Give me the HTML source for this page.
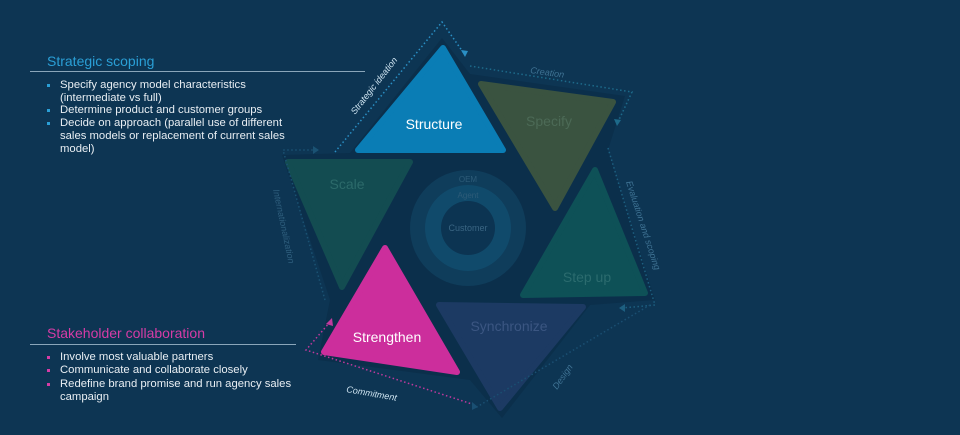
<!DOCTYPE html>
<html><head><meta charset="utf-8"><style>
html,body{margin:0;padding:0;background:#0d3553;}
svg{display:block;font-family:"Liberation Sans",sans-serif;}
</style></head><body>
<svg width="960" height="435" viewBox="0 0 960 435" xmlns="http://www.w3.org/2000/svg">
<rect width="960" height="435" fill="#0d3553"/>
<polygon points="442,38 470,74 625,96 608,150 655,300 590,305 502,418 470,380 318,360 330,300 282,155 350,153" fill="#0b2f4b"/>
<g stroke-linejoin="round" stroke-width="6">
<polygon points="443,48 503,150 358,150" fill="#0a7db5" stroke="#0a7db5"/>
<polygon points="481,84 613,102 555,208" fill="#3a5340" stroke="#3a5340"/>
<polygon points="595,170 645,293 523,295" fill="#0e5157" stroke="#0e5157"/>
<polygon points="439,305 583,307 500,408" fill="#1c3a63" stroke="#1c3a63"/>
<polygon points="385,248 457,372 324,352" fill="#cc2e9c" stroke="#cc2e9c"/>
<polygon points="288,162 410,162 342,287" fill="#134c51" stroke="#134c51"/>
</g>
<circle cx="468" cy="228" r="58" fill="#0f3d5b"/>
<circle cx="468" cy="228" r="43" fill="#104a6b"/>
<circle cx="468" cy="228" r="27" fill="#0c3452"/>
<g fill="#2d5b78" font-size="8" text-anchor="middle">
<text x="468" y="182">OEM</text><text x="468" y="198">Agent</text>
<text x="468" y="231" font-size="9" fill="#3a6583">Customer</text>
</g>
<g font-size="14" text-anchor="middle">
<text x="434" y="129" fill="#ffffff">Structure</text>
<text x="549" y="126" fill="#4c6a56">Specify</text>
<text x="587" y="282" fill="#2b6b6e">Step up</text>
<text x="509" y="331" fill="#3b5682">Synchronize</text>
<text x="387" y="342" fill="#ffffff">Strengthen</text>
<text x="347" y="189" fill="#2c6a6a">Scale</text>
</g>
<g fill="none" stroke-width="1.5" stroke-dasharray="1.5 2.5">
<polyline points="335,152 442,22 465,55" stroke="#2a8fc4"/>
<polyline points="470,66 632,92 617,124" stroke="#1d6a8a"/>
<polyline points="608,148 655,305 622,308" stroke="#1d5f80"/>
<polyline points="650,305 475,408" stroke="#1a4f72"/>
<polyline points="330,322 306,350 475,405" stroke="#c0399e"/>
<polyline points="325,300 283,150 316,150" stroke="#1a5273"/>
</g>
<g>
<polygon points="465,57 461,50 468,51" fill="#2a8fc4"/>
<polygon points="617,126 614,119 621,120" fill="#1d6a8a"/>
<polygon points="619,308 625,304 625,312" fill="#1d5f80"/>
<polygon points="332,318 326,324 333,326" fill="#c0399e"/>
<polygon points="319,150 313,146 313,154" fill="#1a5273"/>
<polygon points="478,407 472,402 472,410" fill="#1a4f72"/>
</g>
<g font-size="9" font-style="italic">
<text transform="translate(355,115) rotate(-52)" fill="#cde3f0">Strategic ideation</text>
<text transform="translate(530,73) rotate(8)" fill="#3f7394">Creation</text>
<text transform="translate(626,182) rotate(72)" fill="#3f7394">Evaluation and scoping</text>
<text transform="translate(557,390) rotate(-55)" fill="#3f7394">Design</text>
<text transform="translate(346,392) rotate(10)" fill="#cde3f0">Commitment</text>
<text transform="translate(273,190) rotate(78)" fill="#2f5f7e">Internationalization</text>
</g>
<text x="47" y="66" font-size="14" fill="#2a9fd6">Strategic scoping</text>
<line x1="30" y1="71.5" x2="365" y2="71.5" stroke="#8aa6ba" stroke-width="1"/>
<g font-size="11.3" fill="#e8eef3">
<text x="60" y="88">Specify agency model characteristics</text>
<text x="60" y="101">(intermediate vs full)</text>
<text x="60" y="113">Determine product and customer groups</text>
<text x="60" y="126">Decide on approach (parallel use of different</text>
<text x="60" y="139">sales models or replacement of current sales</text>
<text x="60" y="152">model)</text>
</g>
<g fill="#2a9fd6"><rect x="47" y="84" width="3" height="3"/><rect x="47" y="109" width="3" height="3"/><rect x="47" y="122" width="3" height="3"/></g>
<text x="47" y="338" font-size="14" fill="#d63ca6">Stakeholder collaboration</text>
<line x1="30" y1="344.5" x2="296" y2="344.5" stroke="#8aa6ba" stroke-width="1"/>
<g font-size="11.3" fill="#e8eef3">
<text x="60" y="360">Involve most valuable partners</text>
<text x="60" y="373">Communicate and collaborate closely</text>
<text x="60" y="387">Redefine brand promise and run agency sales</text>
<text x="60" y="400">campaign</text>
</g>
<g fill="#d63ca6"><rect x="47" y="356" width="3" height="3"/><rect x="47" y="369" width="3" height="3"/><rect x="47" y="383" width="3" height="3"/></g>
</svg>
</body></html>
